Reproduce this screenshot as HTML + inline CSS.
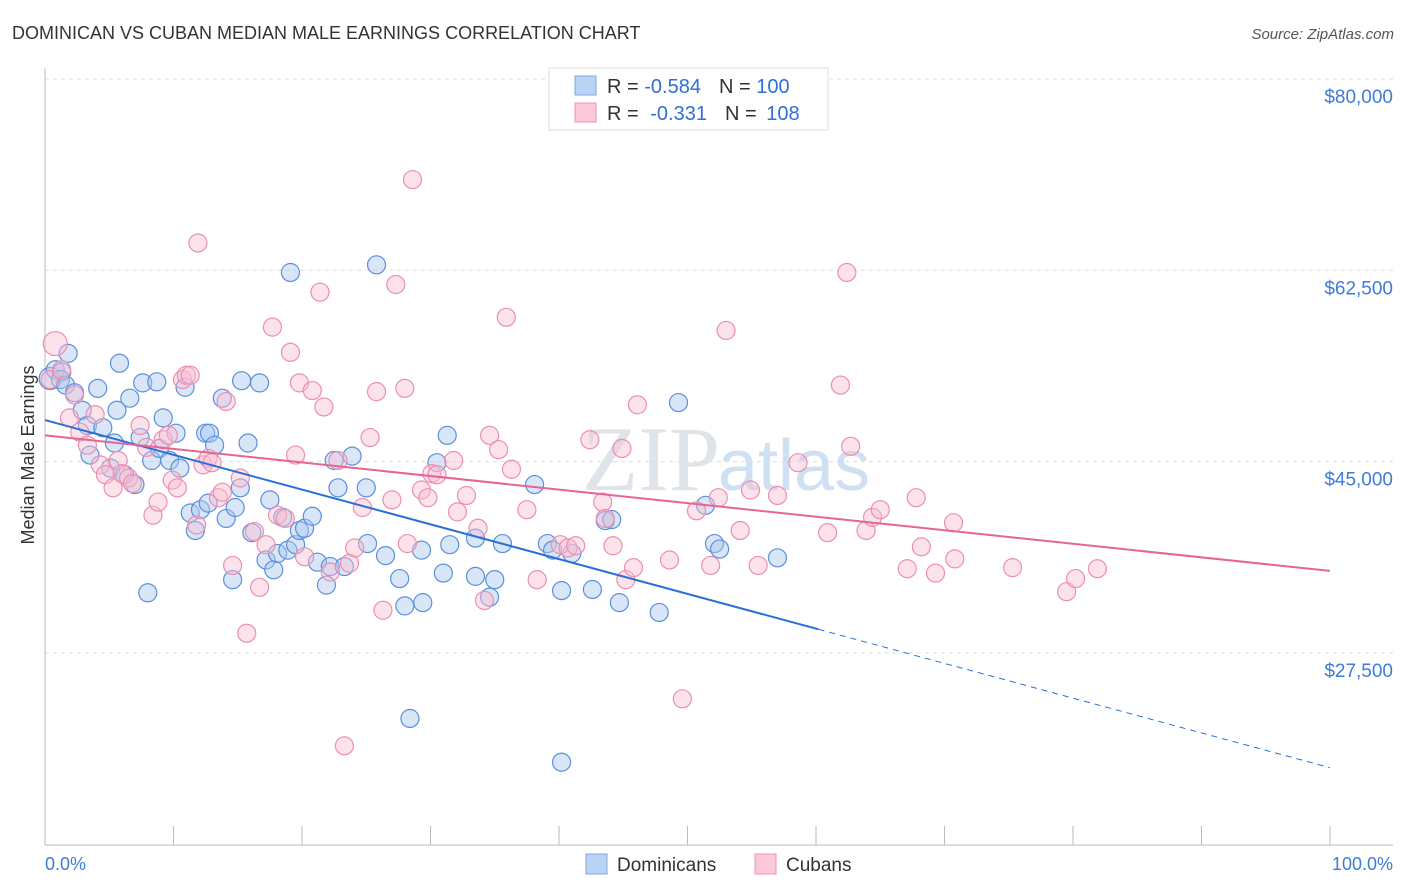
<!DOCTYPE html>
<html><head><meta charset="utf-8"><style>
body{margin:0;background:#fff;font-family:"Liberation Sans",sans-serif}
svg{display:block}
</style></head><body>
<svg id="c" width="1406" height="892" xmlns="http://www.w3.org/2000/svg">
<text x="12" y="39" font-size="18" fill="#333">DOMINICAN VS CUBAN MEDIAN MALE EARNINGS CORRELATION CHART</text>
<text x="1394" y="39" font-size="15" fill="#555" font-style="italic" text-anchor="end">Source: ZipAtlas.com</text>
<text x="720" y="490" font-size="92" fill="#dfe3ea" text-anchor="end" font-family="Liberation Serif,serif">ZIP</text>
<text x="718" y="490" font-size="72" fill="#cfe0f2">atlas</text>
<text transform="translate(34,455) rotate(-90)" font-size="18" fill="#333" text-anchor="middle">Median Male Earnings</text>
<g id="grid"></g><g id="marks"></g>
<g>
<rect x="549" y="68" width="279" height="62" fill="#fff" stroke="#ddd"/>
<rect x="575" y="76" width="21" height="19" fill="#b9d3f5" stroke="#7fa9e3"/>
<rect x="575" y="103" width="21" height="19" fill="#fbc9d8" stroke="#ef93b1"/>
<text x="607" y="93" font-size="20" fill="#333">R = <tspan fill="#2f6fd6">-0.584</tspan><tspan dx="18">N = </tspan><tspan fill="#2f6fd6">100</tspan></text>
<text x="607" y="120" font-size="20" fill="#333">R = <tspan fill="#2f6fd6" dx="6">-0.331</tspan><tspan dx="18">N = </tspan><tspan fill="#2f6fd6" dx="4">108</tspan></text>
</g>
<g>
<rect x="586" y="854" width="21" height="20" fill="#b9d3f5" stroke="#7fa9e3"/>
<text x="617" y="871" font-size="19" fill="#333">Dominicans</text>
<rect x="755" y="854" width="21" height="20" fill="#fbc9d8" stroke="#ef93b1"/>
<text x="786" y="871" font-size="19" fill="#333">Cubans</text>
</g>
<text x="45" y="870" font-size="18" fill="#3f7bd9">0.0%</text>
<text x="1393" y="870" font-size="18" fill="#3f7bd9" text-anchor="end">100.0%</text>
</svg>
<script>
const yTicks=[80000,62500,45000,27500];
const yTickLabels=["$80,000","$62,500","$45,000","$27,500"];
const blueX=[0.4,0.8,1.3,1.8,1.2,1.6,2.3,2.9,3.3,3.5,4.1,4.5,5.1,5.4,5.8,5.6,6.2,6.6,7.0,7.4,7.6,8.0,8.3,8.7,8.9,9.2,9.7,10.2,10.5,10.9,11.3,11.7,12.1,12.5,12.8,12.7,13.2,13.8,14.1,14.6,14.8,15.2,15.3,15.8,16.1,16.7,17.2,17.5,17.8,18.1,18.5,18.9,19.1,19.5,19.8,20.2,20.8,21.2,21.9,22.2,22.5,23.3,23.9,22.8,25.0,25.1,25.8,26.5,27.6,28.0,28.4,29.3,29.4,30.5,31.0,31.3,31.5,33.5,33.5,34.6,35.0,35.6,38.1,39.1,39.5,40.2,40.2,41.0,42.6,43.6,44.1,44.7,47.8,49.3,51.4,52.1,52.5,57.0];
const blueY=[52.6,53.4,53.2,54.9,52.5,52.0,51.3,49.7,48.3,45.6,51.7,48.1,44.4,46.7,54.0,49.7,43.8,50.8,42.9,47.2,52.2,33.0,45.1,52.3,46.2,49.0,45.1,47.6,44.4,51.8,40.3,38.7,40.6,47.6,47.6,41.2,46.5,50.8,39.8,34.2,40.8,42.6,52.4,46.7,38.5,52.2,36.0,41.5,35.1,36.6,39.9,36.9,62.3,37.4,38.7,38.9,40.0,35.8,33.7,35.4,45.1,35.4,45.5,42.6,42.6,37.5,63.0,36.4,34.3,31.8,21.5,36.9,32.1,44.9,34.8,47.4,37.4,34.5,38.0,32.6,34.2,37.5,42.9,37.5,36.9,33.2,17.5,36.6,33.3,39.6,39.7,32.1,31.2,50.4,41.0,37.5,37.0,36.2];
const pinkX=[0.8,0.4,1.3,1.9,2.3,2.7,3.3,3.9,4.3,4.7,5.3,5.7,6.0,6.5,6.8,7.4,7.9,8.4,8.8,9.2,9.6,9.9,10.3,10.7,11.0,11.3,11.8,11.9,12.3,12.7,13.0,13.5,13.8,14.1,14.6,15.2,15.7,16.3,16.7,17.2,17.7,18.1,18.7,19.1,19.5,19.8,20.2,20.8,21.4,21.7,22.2,22.8,23.3,23.7,24.1,24.7,25.3,25.8,26.3,27.3,27.0,28.0,28.2,28.6,29.3,29.8,30.1,30.5,31.8,32.1,32.8,33.7,34.2,34.6,35.3,35.9,36.3,37.5,38.3,40.1,40.7,41.3,42.4,43.4,43.6,44.2,44.9,45.2,45.8,46.1,48.6,49.6,50.7,51.8,52.4,53.0,54.1,54.9,55.5,57.0,58.6,60.9,61.9,62.4,62.7,63.9,64.4,65.0,67.1,67.8,68.2,69.3,70.7,70.8,75.3,79.5,80.2,81.9];
const pinkY=[55.8,52.5,53.4,49.0,51.1,47.7,46.5,49.3,44.7,43.8,42.6,45.1,43.9,43.5,43.0,48.3,46.3,40.1,41.3,47.0,47.4,43.3,42.6,52.5,52.9,52.9,39.2,65.0,44.7,45.3,44.9,41.7,42.2,50.5,35.5,43.5,29.3,38.6,33.5,37.4,57.3,40.1,39.8,55.0,45.6,52.2,36.3,51.5,60.5,50.0,34.9,45.1,19.0,35.7,37.1,40.8,47.2,51.4,31.4,61.2,41.5,51.7,37.5,70.8,42.4,41.7,43.9,43.8,45.1,40.4,41.9,38.9,32.3,47.4,46.1,58.2,44.3,40.6,34.2,37.4,37.1,37.3,47.0,41.3,39.8,37.3,46.2,34.2,35.3,50.2,36.0,23.3,40.5,35.5,41.7,57.0,38.7,42.4,35.5,41.9,44.9,38.5,52.0,62.3,46.4,38.7,39.9,40.6,35.2,41.7,37.2,34.8,39.4,36.1,35.3,33.1,34.3,35.2];
const blueTrend=[48.8,17.0];const blueSolidEnd=60.2;
const pinkTrend=[47.4,35.0];
const xs=p=>45+p*12.85;
const ys=v=>79+(80-v)/17.5*191.3;
const NS="http://www.w3.org/2000/svg";
function mk(t,a,p){const e=document.createElementNS(NS,t);for(const k in a)e.setAttribute(k,a[k]);p.appendChild(e);return e;}
const g=document.getElementById('grid'),m=document.getElementById('marks');
yTicks.forEach((t,i)=>{
 const y=ys(t/1000);
 const l=mk('line',{x1:45,x2:1393,y1:y,y2:y,stroke:'#ddd','stroke-dasharray':'4,4'},g);
 
 
 const tx=mk('text',{x:1393,y:y+24,'font-size':19,fill:'#3f7bd9','text-anchor':'end'},g);
 tx.textContent=yTickLabels[i];
 
 
});
const ax=mk('line',{x1:45,x2:1393,y1:845,y2:845,stroke:'#bbb'},g);


const ay=mk('line',{x1:45,x2:45,y1:68,y2:845,stroke:'#bbb'},g);


for(let i=0;i<=10;i++){const t=mk('line',{x1:xs(i*10),x2:xs(i*10),y1:826,y2:845,stroke:'#bbb'},g);
 
 }
function pts(X,Y,fill,stroke,name){X.forEach((x,i)=>{const r=(i<1&&name==='pink-point')?12:(i<1?11:9);
 const c=mk('circle',{cx:xs(x),cy:ys(Y[i]),r:r,fill:fill,'fill-opacity':0.45,stroke:stroke,'stroke-width':1.2},m);
 
 });}
pts(blueX,blueY,'#a9c8f0','#5b8fdc','blue-point');
pts(pinkX,pinkY,'#f9bfd2','#ec8fae','pink-point');
const bAt=p=>blueTrend[0]+(blueTrend[1]-blueTrend[0])*p/100;
const b1=mk('line',{x1:xs(0),y1:ys(bAt(0)),x2:xs(blueSolidEnd),y2:ys(bAt(blueSolidEnd)),stroke:'#2a6ed8','stroke-width':2},m);


const b2=mk('line',{x1:xs(blueSolidEnd),y1:ys(bAt(blueSolidEnd)),x2:xs(100),y2:ys(bAt(100)),stroke:'#2a6ed8','stroke-width':1,'stroke-dasharray':'6,5'},m);


const p1=mk('line',{x1:xs(0),y1:ys(pinkTrend[0]),x2:xs(100),y2:ys(pinkTrend[1]),stroke:'#e66593','stroke-width':2},m);


</script>
</body></html>
